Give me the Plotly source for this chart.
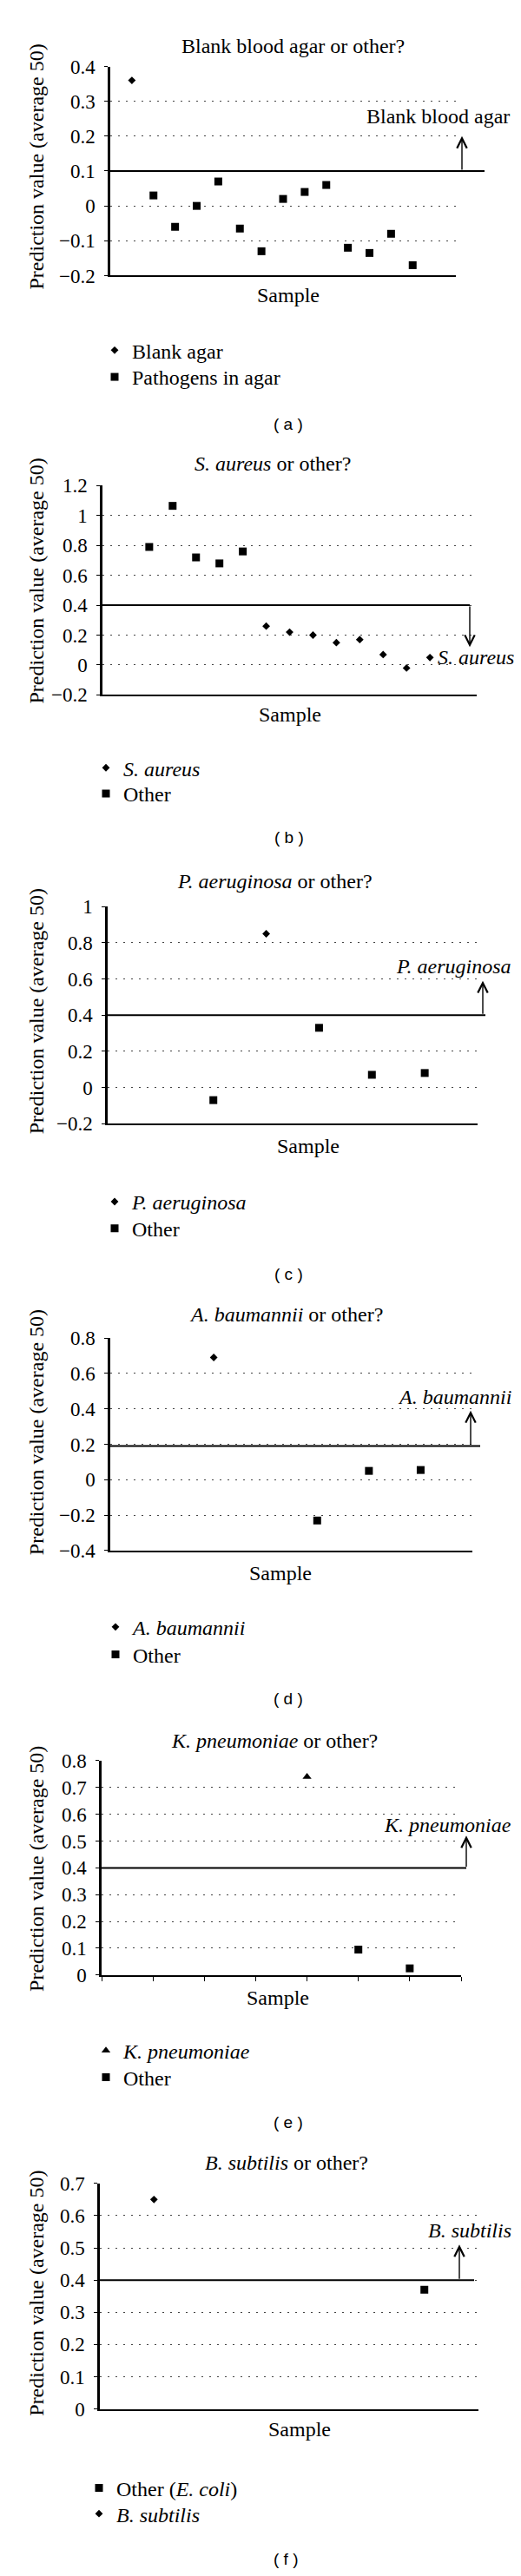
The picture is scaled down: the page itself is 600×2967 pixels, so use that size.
import plotly.graph_objects as go

# ---- values ----
a_blank_x = [1]
a_blank_y = [0.36]
a_path_x = [2, 3, 4, 5, 6, 7, 8, 9, 10, 11, 12, 13, 14]
a_path_y = [0.03, -0.06, 0.0, 0.07, -0.065, -0.13, 0.02, 0.04, 0.06, -0.12, -0.135, -0.08, -0.17]

b_saur_x = [7, 8, 9, 10, 11, 12, 13, 14]
b_saur_y = [0.26, 0.22, 0.2, 0.15, 0.17, 0.07, -0.02, 0.05]
b_other_x = [2, 3, 4, 5, 6]
b_other_y = [0.79, 1.065, 0.72, 0.68, 0.76]

c_paer_x = [3]
c_paer_y = [0.85]
c_other_x = [2, 4, 5, 6]
c_other_y = [-0.07, 0.33, 0.07, 0.08]

d_abau_x = [2]
d_abau_y = [0.69]
d_other_x = [4, 5, 6]
d_other_y = [-0.23, 0.05, 0.055]

e_kpn_x = [4]
e_kpn_y = [0.74]
e_other_x = [5, 6]
e_other_y = [0.095, 0.025]

f_other_x = [6]
f_other_y = [0.37]
f_bsub_x = [1]
f_bsub_y = [0.65]

titles = ["Blank blood agar or other?", "<i>S. aureus</i> or other?",
          "<i>P. aeruginosa</i> or other?", "<i>A. baumannii</i> or other?",
          "<i>K. pneumoniae</i> or other?", "<i>B. subtilis</i> or other?"]
side_labels = ["Blank blood agar", "<i>S. aureus</i>", "<i>P. aeruginosa</i>",
               "<i>A. baumannii</i>", "<i>K. pneumoniae</i>", "<i>B. subtilis</i>"]
side_label_y = [0.257, 0.05, 0.67, 0.465, 0.56, 0.555]
panel_tags = ["( a )", "( b )", "( c )", "( d )", "( e )", "( f )"]
thresholds = [0.1, 0.4, 0.4, 0.19, 0.4, 0.4]
arrow_heads = [0.2, 0.12, 0.59, 0.39, 0.52, 0.51]
y_ranges = [[-0.2, 0.4], [-0.2, 1.2], [-0.2, 1.0], [-0.4, 0.8], [0, 0.8], [0, 0.7]]
y_steps = [0.1, 0.2, 0.2, 0.2, 0.1, 0.1]
x_ranges = [[0, 16], [0, 16], [0, 7], [0, 7], [0, 7], [0, 7]]

series = [
    [("Blank agar", a_blank_x, a_blank_y, "diamond"),
     ("Pathogens in agar", a_path_x, a_path_y, "square")],
    [("<i>S. aureus</i>", b_saur_x, b_saur_y, "diamond"),
     ("Other", b_other_x, b_other_y, "square")],
    [("<i>P. aeruginosa</i>", c_paer_x, c_paer_y, "diamond"),
     ("Other", c_other_x, c_other_y, "square")],
    [("<i>A. baumannii</i>", d_abau_x, d_abau_y, "diamond"),
     ("Other", d_other_x, d_other_y, "square")],
    [("<i>K. pneumoniae</i>", e_kpn_x, e_kpn_y, "triangle-up"),
     ("Other", e_other_x, e_other_y, "square")],
    [("Other (<i>E. coli</i>)", f_other_x, f_other_y, "square"),
     ("<i>B. subtilis</i>", f_bsub_x, f_bsub_y, "diamond")],
]

# ---- geometry in page pixels ----
W, H = 600, 2967
GEOM = [
    dict(x0=119, x1=517, top=57, bot=300, line_end=550, arrow_x=524, label_x=581, label_anchor="right",
         title=(329, 33), sample=(324, 323), tag=(324, 472), ytitle=174, leg=(125, 387, 418)),
    dict(x0=110, x1=541, top=544, bot=787, line_end=533, arrow_x=533, label_x=494, label_anchor="left",
         title=(306, 518), sample=(326, 810), tag=(325, 953), ytitle=655, leg=(115, 872, 902)),
    dict(x0=116, x1=542, top=1033, bot=1285, line_end=551, arrow_x=548, label_x=583, label_anchor="right",
         title=(308, 1003), sample=(347, 1311), tag=(324, 1460), ytitle=1155, leg=(125, 1376, 1407)),
    dict(x0=119, x1=536, top=1534, bot=1781, line_end=545, arrow_x=534, label_x=583, label_anchor="right",
         title=(321, 1507), sample=(315, 1807), tag=(324, 1953), ytitle=1644, leg=(126, 1870, 1902)),
    dict(x0=109, x1=523, top=2025, bot=2274, line_end=529, arrow_x=529, label_x=583, label_anchor="right",
         title=(308, 2002), sample=(312, 2300), tag=(324, 2445), ytitle=2151, leg=(115, 2362, 2393)),
    dict(x0=107, x1=543, top=2516, bot=2778, line_end=538, arrow_x=521, label_x=583, label_anchor="right",
         title=(322, 2492), sample=(337, 2802), tag=(321, 2952), ytitle=2644, leg=(107, 2870, 2900)),
]

SERIF = "Liberation Serif"
SIZES = {"diamond": 6.8, "square": 9, "triangle-up": 9}


def px(x):
    return x / W


def py(y):
    return 1 - y / H


fig = go.Figure()
annotations = []
shapes = []
layout = {}
leg_count = 0

for i, g in enumerate(GEOM):
    n = "" if i == 0 else str(i + 1)
    for k, (name, xs, ys, sym) in enumerate(series[i]):
        leg_count += 1
        lg = "legend" if leg_count == 1 else "legend%d" % leg_count
        fig.add_trace(go.Scatter(
            x=xs, y=ys, mode="markers", name=name,
            xaxis="x" + n, yaxis="y" + n, legend=lg,
            marker=dict(symbol=sym, size=SIZES[sym], color="black"),
            cliponaxis=False
        ))
        layout[lg] = dict(
            x=px(g["leg"][0] - 21), y=py(g["leg"][1 + k]), xanchor="left", yanchor="middle",
            bgcolor="rgba(0,0,0,0)", font=dict(family=SERIF, size=24, color="black"),
            itemclick=False, itemdoubleclick=False, borderwidth=0
        )

    layout["xaxis" + n] = dict(
        domain=[px(g["x0"]), px(g["x1"])], range=x_ranges[i], anchor="y" + n,
        showgrid=False, zeroline=False, showline=True, linecolor="black", linewidth=2,
        showticklabels=False,
        ticks="outside" if i == 4 else "", ticklen=5, tickwidth=1, tickcolor="black",
        tick0=0, dtick=1
    )
    layout["yaxis" + n] = dict(
        domain=[py(g["bot"]), py(g["top"])], range=y_ranges[i], anchor="x" + n,
        showgrid=True, gridcolor="#444", gridwidth=1.2, griddash="2px,7px",
        zeroline=False, showline=True, linecolor="black", linewidth=2.5,
        ticks="outside", ticklen=4, tickwidth=1, tickcolor="black",
        tick0=0, dtick=y_steps[i], ticklabelstandoff=6,
        tickfont=dict(family=SERIF, size=23, color="black")
    )

    yref = "y" + n
    # threshold line
    shapes.append(dict(type="line", xref="paper", yref=yref,
                       x0=px(g["x0"]), x1=px(g["line_end"]),
                       y0=thresholds[i], y1=thresholds[i],
                       line=dict(color="black", width=2)))
    # arrow
    annotations.append(dict(xref="paper", yref=yref, x=px(g["arrow_x"]), y=arrow_heads[i],
                            axref="pixel", ax=0, ayref=yref, ay=thresholds[i],
                            showarrow=True, arrowhead=5, arrowsize=1.6, arrowwidth=1.4,
                            arrowcolor="black", text=""))
    # side label
    annotations.append(dict(xref="paper", yref=yref, x=px(g["label_x"]), y=side_label_y[i],
                            xanchor=g["label_anchor"], yanchor="middle", showarrow=False,
                            text=side_labels[i], font=dict(family=SERIF, size=24, color="black")))
    # title
    annotations.append(dict(xref="paper", yref="paper", x=px(g["title"][0]), y=py(g["title"][1]),
                            xanchor="center", yanchor="middle", showarrow=False,
                            text=titles[i], font=dict(family=SERIF, size=24, color="black")))
    # x title
    annotations.append(dict(xref="paper", yref="paper", x=px(g["sample"][0]), y=py(g["sample"][1]),
                            xanchor="center", yanchor="middle", showarrow=False,
                            text="Sample", font=dict(family=SERIF, size=24, color="black")))
    # y title
    annotations.append(dict(xref="paper", yref="paper", x=px(34), y=py(g["ytitle"]),
                            xanchor="center", yanchor="middle", showarrow=False, textangle=-90,
                            text="Prediction value (average 50)",
                            font=dict(family=SERIF, size=24, color="black")))
    # panel tag
    annotations.append(dict(xref="paper", yref="paper", x=px(g["tag"][0]), y=py(g["tag"][1]),
                            xanchor="center", yanchor="middle", showarrow=False,
                            text=panel_tags[i], font=dict(family="Liberation Sans", size=19, color="black")))

fig.update_layout(
    width=W, height=H,
    margin=dict(l=0, r=0, t=0, b=0),
    paper_bgcolor="white", plot_bgcolor="white",
    showlegend=True,
    annotations=annotations, shapes=shapes,
    **layout
)

fig.write_html("out.html")
